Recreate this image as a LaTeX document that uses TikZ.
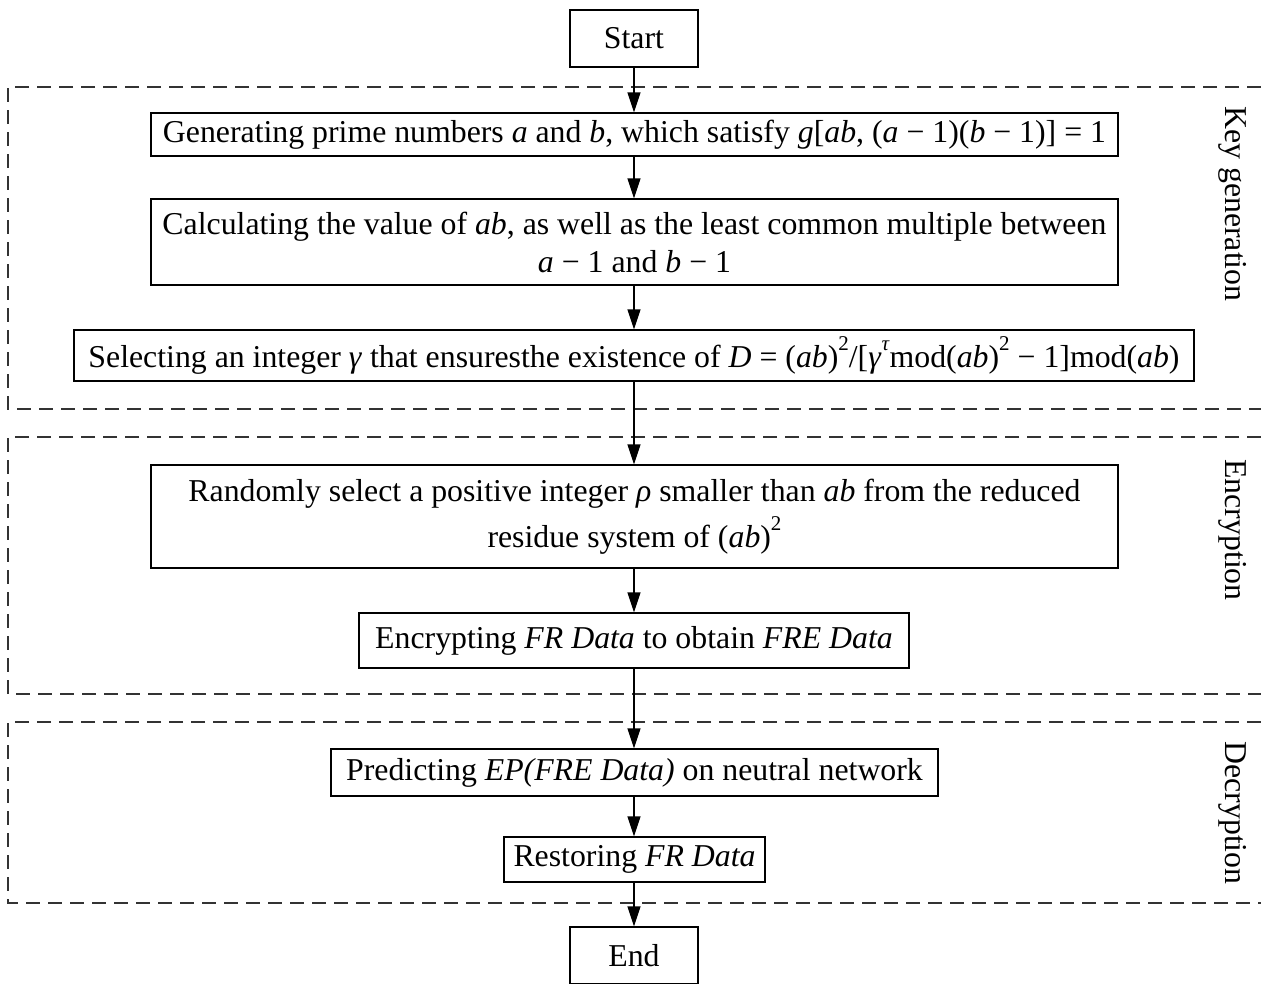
\documentclass[tikz,border=0pt]{standalone}
\usepackage{fontspec}
\setmainfont{Liberation Serif}
\usetikzlibrary{arrows.meta}
\newcommand{\hisup}[1]{\raisebox{0.52em}{\fontsize{21}{21}\selectfont #1}}
\begin{document}
\begin{tikzpicture}[x=1pt,y=-1pt,
  every node/.style={font=\fontsize{31.8}{38}\selectfont},
  stepbox/.style={draw, line width=1.2pt, inner sep=0pt, align=center},
  flow/.style={line width=1.2pt, -{Triangle[length=20pt,width=13pt]}},
  group/.style={line width=1.3pt, dash pattern=on 14pt off 8pt, draw=black!80},
  side/.style={rotate=-90}]
\useasboundingbox (0,0) rectangle (1261,983);
% group frames
\draw[group] (1261,87) -- (8,87) -- (8,409) -- (1261,409);
\draw[group] (1261,437) -- (8,437) -- (8,694) -- (1261,694);
\draw[group] (1261,722) -- (8,722) -- (8,903) -- (1261,903);
\node[side] (lk) at (1233,204) {Key generation};
\node[side] (le) at (1233,530) {Encryption};
\node[side] (ld) at (1233,813) {Decryption};
% boxes
\node[stepbox, minimum width=128pt, minimum height=57pt] (start) at (634,38.5) {Start};
\node[stepbox, minimum width=967pt, minimum height=43pt] (b1) at (634.5,134.5) {Generating prime numbers \textit{a} and \textit{b}, which satisfy \textit{g}[\textit{ab}, (\textit{a} − 1)(\textit{b} − 1)] = 1};
\node[stepbox, minimum width=967pt, minimum height=86pt] (b2) at (634.5,242) {Calculating the value of \textit{ab}, as well as the least common multiple between\\ \textit{a} − 1 and \textit{b} − 1};
\node[stepbox, minimum width=1120pt, minimum height=51pt] (b3) at (634,355.5) {Selecting an integer \textit{γ} that ensuresthe existence of \textit{D} = (\textit{ab})\hisup{2}/[\textit{γ}\hisup{\textit{τ}}mod(\textit{ab})\hisup{2} − 1]mod(\textit{ab})};
\node[stepbox, minimum width=967pt, minimum height=103pt] (b4) at (634.5,516.5) {Randomly select a positive integer \textit{ρ} smaller than \textit{ab} from the reduced\\[8pt] residue system of (\textit{ab})\hisup{2}};
\node[stepbox, minimum width=550pt, minimum height=55pt] (b5) at (634,640.5) {Encrypting \textit{FR Data} to obtain \textit{FRE Data}};
\node[stepbox, minimum width=607pt, minimum height=47pt] (b6) at (634.5,772.5) {Predicting \textit{EP(FRE Data)} on neutral network};
\node[stepbox, minimum width=261pt, minimum height=45pt] (b7) at (634.5,859.5) {Restoring \textit{FR Data}};
\node[stepbox, minimum width=128pt, minimum height=57pt] (end) at (634,955.5) {End};
% connectors
\draw[flow] (start.south -| 634,0) -- (b1.north -| 634,0);
\draw[flow] (b1.south -| 634,0) -- (b2.north -| 634,0);
\draw[flow] (b2.south -| 634,0) -- (b3.north -| 634,0);
\draw[flow] (b3.south -| 634,0) -- (b4.north -| 634,0);
\draw[flow] (b4.south -| 634,0) -- (b5.north -| 634,0);
\draw[flow] (b5.south -| 634,0) -- (b6.north -| 634,0);
\draw[flow] (b6.south -| 634,0) -- (b7.north -| 634,0);
\draw[flow] (b7.south -| 634,0) -- (end.north -| 634,0);
\end{tikzpicture}
\end{document}
